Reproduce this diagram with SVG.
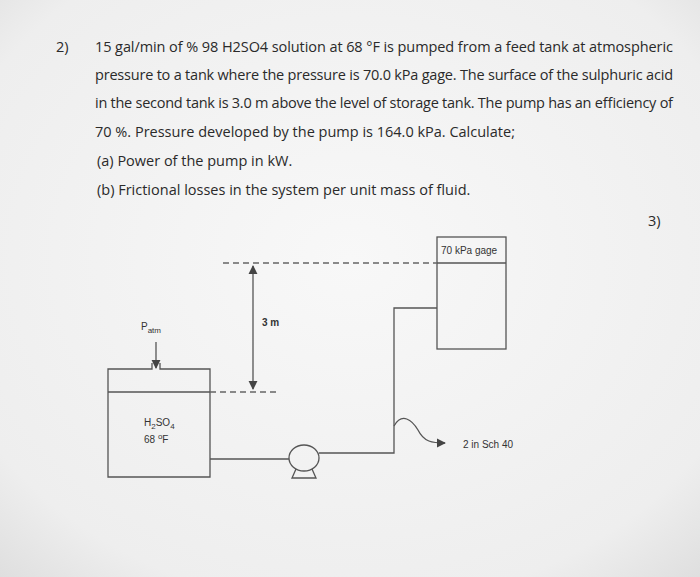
<svg xmlns="http://www.w3.org/2000/svg" width="700" height="577" viewBox="0 0 700 577">
<style>
.t{font-family:"Open Sans","Liberation Sans",sans-serif;font-size:14.5px;fill:#2a2a2a}
.s{font-family:"Liberation Sans",sans-serif;font-size:10px;fill:#333}
.l{fill:none;stroke:#555;stroke-width:1.3}
.d{fill:none;stroke:#666;stroke-width:1.3;stroke-dasharray:6 4}
</style>
<defs>
<radialGradient id="bg" cx="0.5" cy="0.45" r="0.75"><stop offset="0" stop-color="#f8f8f8"/><stop offset="0.8" stop-color="#eeeeee"/><stop offset="1" stop-color="#dedede"/></radialGradient>
<marker id="a" viewBox="0 0 10 10" refX="9" refY="5" markerWidth="7" markerHeight="7" orient="auto-start-reverse"><path d="M0,0L10,5L0,10z" fill="#444"/></marker>
</defs>
<rect width="700" height="577" fill="url(#bg)"/>
<g id="question">
<text class="t" x="56" y="52">2)</text>
<text class="t" x="95" y="52" textLength="578">15 gal/min of % 98 H2SO4 solution at 68 °F is pumped from a feed tank at atmospheric</text>
<text class="t" x="95" y="80" textLength="578">pressure to a tank where the pressure is 70.0 kPa gage. The surface of the sulphuric acid</text>
<text class="t" x="95" y="108" textLength="578">in the second tank is 3.0 m above the level of storage tank. The pump has an efficiency of</text>
<text class="t" x="95" y="137">70 %. Pressure developed by the pump is 164.0 kPa. Calculate;</text>
<text class="t" x="97" y="166">(a) Power of the pump in kW.</text>
<text class="t" x="97" y="195">(b) Frictional losses in the system per unit mass of fluid.</text>
<text class="t" x="648" y="226">3)</text>
</g>
<g id="feed-tank">
<path class="l" d="M152,363V369H108V477H210V369H160V363"/>
<line class="l" x1="108" y1="392" x2="210" y2="392"/>
<text class="s" x="141" y="330">P<tspan font-size="8" dy="3">atm</tspan></text>
<text class="s" x="144" y="426">H<tspan font-size="8" dy="3">2</tspan><tspan dy="-3">SO</tspan><tspan font-size="8" dy="3">4</tspan></text>
<text class="s" x="144" y="443">68 <tspan font-size="8" dy="-4">o</tspan><tspan dy="4">F</tspan></text>
</g>
<g id="pump">
<ellipse class="l" cx="304" cy="458" rx="15" ry="13" fill="#f6f6f6"/>
<path class="l" d="M296,469L292,478H316L312,469"/>
</g>
<g id="receiving-tank">
<rect class="l" x="437" y="237" width="69" height="112"/>
<line class="l" x1="437" y1="263" x2="506" y2="263"/>
<text class="s" x="441" y="254">70 kPa gage</text>
</g>
<g id="connectors">
<line class="l" x1="210" y1="459" x2="289" y2="459"/>
<path class="l" d="M319,453H394V308H437"/>
<line class="d" x1="223" y1="263" x2="437" y2="263"/>
<line class="d" x1="210" y1="392" x2="277" y2="392"/>
<line class="l" x1="253" y1="266" x2="253" y2="389" marker-start="url(#a)" marker-end="url(#a)"/>
<line class="l" x1="156" y1="342" x2="156" y2="368" marker-end="url(#a)"/>
<path class="l" d="M394,426C402,412 412,420 418,430C424,442 432,443 445,443" marker-end="url(#a)"/>
<text class="s" x="262" y="326" font-weight="bold">3 m</text>
<text class="s" x="463" y="448">2 in Sch 40</text>
</g>
</svg>
